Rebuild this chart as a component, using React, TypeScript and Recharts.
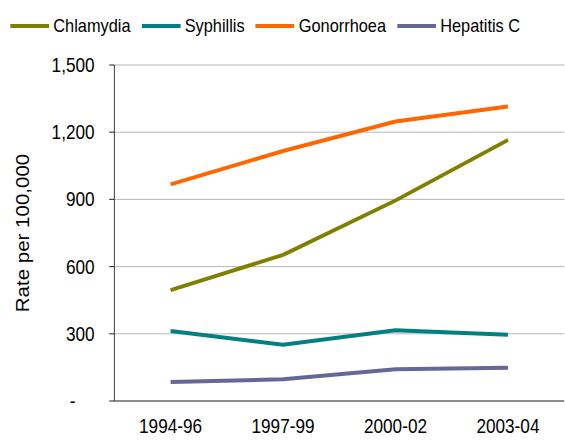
import React from 'react';
import { LineChart, Line, XAxis, YAxis, CartesianGrid } from 'recharts';

const periods = ['1994-96', '1997-99', '2000-02', '2003-04'];
const chlamydia = [495, 652, 895, 1165];
const syphilis = [313, 251, 316, 296];
const gonorrhoea = [967, 1116, 1248, 1315];
const hepatitisC = [85, 97, 142, 148];
const yTicks = [0, 300, 600, 900, 1200, 1500];

const series = [
  { key: 'chlamydia', name: 'Chlamydia', color: '#808000', values: chlamydia },
  { key: 'syphilis', name: 'Syphillis', color: '#008080', values: syphilis },
  { key: 'gonorrhoea', name: 'Gonorrhoea', color: '#FF6600', values: gonorrhoea },
  { key: 'hepatitisC', name: 'Hepatitis C', color: '#666699', values: hepatitisC },
];

const data = periods.map((p, i) => {
  const row: Record<string, string | number> = { period: p };
  series.forEach((s) => {
    row[s.key] = s.values[i];
  });
  return row;
});

const FONT = '"Liberation Sans", Arial, sans-serif';
const SX = 0.86;
const W = 657;
const H = 441;

const fmt = (v: number) => (v === 0 ? '-\u00a0\u00a0\u00a0\u00a0' : v.toLocaleString('en-US'));

export default function App() {
  return (
    <div style={{ position: 'absolute', left: 0, top: 0, width: 565, height: 441, overflow: 'hidden', background: '#fff' }}>
      <div style={{ position: 'absolute', left: 0, top: 0, width: W, height: H, transform: `scaleX(${SX})`, transformOrigin: '0 0', fontFamily: FONT }}>
        <div style={{ position: 'absolute', left: 12, top: 15, display: 'flex', alignItems: 'center', gap: 13, fontSize: 19, color: '#000', whiteSpace: 'nowrap' }}>
          {series.map((s) => (
            <div key={s.key} style={{ display: 'flex', alignItems: 'center' }}>
              <div style={{ width: 45, height: 3.5, background: s.color, marginRight: 5 }} />
              <span>{s.name}</span>
            </div>
          ))}
        </div>
        <LineChart width={W} height={H} data={data} margin={{ top: 65, right: 1, bottom: 0, left: 0 }} style={{ fontFamily: FONT }}>
          <CartesianGrid vertical={false} stroke="#b0b0b0" strokeWidth={1} />
          <XAxis
            xAxisId={0}
            type="number"
            domain={[0, 4]}
            allowDataOverflow
            ticks={[0, 1, 2, 3, 4]}
            tick={false}
            tickSize={6}
            height={6}
            axisLine={{ stroke: '#404040', strokeWidth: 1.2 }}
            tickLine={{ stroke: '#404040', strokeWidth: 1.2 }}
          />
          <XAxis
            xAxisId="labels"
            dataKey="period"
            scale="band"
            height={34}
            interval={0}
            tickLine={false}
            axisLine={false}
            tickSize={0}
            tickMargin={12}
            tick={{ fontSize: 20, fill: '#000', fontFamily: FONT }}
          />
          <YAxis
            width={133}
            domain={[0, 1500]}
            ticks={yTicks}
            interval={0}
            tickFormatter={fmt}
            tickSize={6}
            tickMargin={17}
            axisLine={{ stroke: '#404040', strokeWidth: 1.2 }}
            tickLine={{ stroke: '#404040', strokeWidth: 1.2 }}
            tick={{ fontSize: 20, fill: '#000', fontFamily: FONT }}
            label={{
              value: 'Rate per 100,000',
              angle: -90,
              position: 'insideLeft',
              offset: 0,
              dx: 26,
              style: { fontSize: 20.5, fill: '#000', fontFamily: FONT, textAnchor: 'middle' },
            }}
          />
          {series.map((s) => (
            <Line
              key={s.key}
              xAxisId="labels"
              type="linear"
              dataKey={s.key}
              name={s.name}
              stroke={s.color}
              strokeWidth={4}
              dot={false}
              activeDot={false}
              isAnimationActive={false}
            />
          ))}
        </LineChart>
      </div>
    </div>
  );
}
